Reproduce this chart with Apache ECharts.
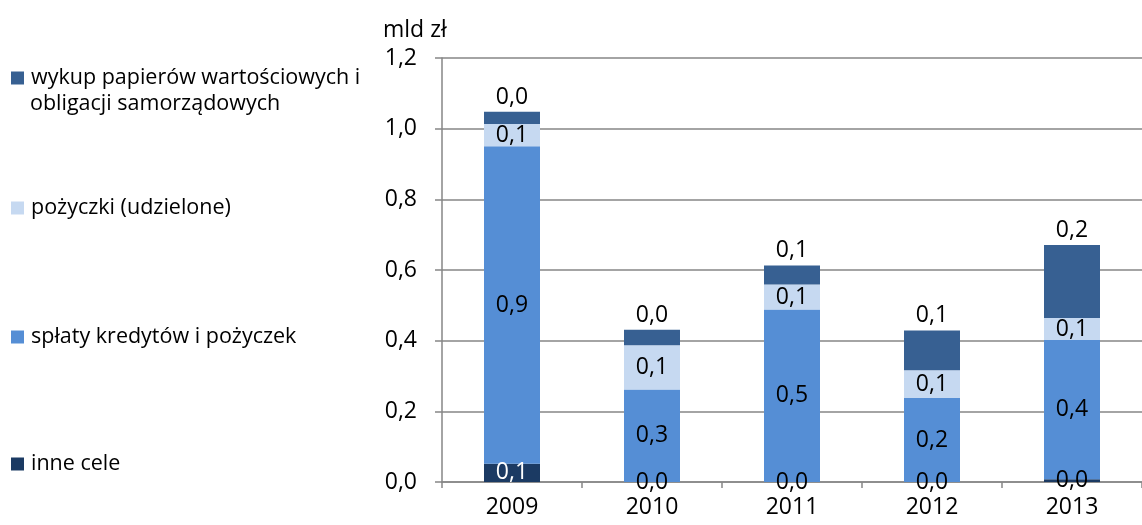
<!DOCTYPE html>
<html><head><meta charset="utf-8">
<script src="https://cdn.jsdelivr.net/npm/echarts@6/dist/echarts.min.js"></script>
<style>html,body{margin:0;padding:0;background:#fff}#c{width:1142px;height:525px}</style>
</head><body><div id="c"></div>
<script>
const categories = ['2009', '2010', '2011', '2012', '2013'];
const inneCele = [0.052, 0, 0, 0, 0.008];
const splaty = [0.898, 0.262, 0.488, 0.238, 0.394];
const pozyczki = [0.063, 0.125, 0.071, 0.078, 0.062];
const wykup = [0.035, 0.044, 0.054, 0.113, 0.207];

const names = {
  inne: 'inne cele',
  splaty: 'spłaty kredytów i pożyczek',
  pozyczki: 'pożyczki (udzielone)',
  wykup: 'wykup papierów wartościowych i obligacji samorządowych'
};
const wykupLine1 = 'wykup papierów wartościowych i';
const wykupLine2 = 'obligacji samorządowych';
const colors = { inne: '#1B3A63', splaty: '#558ED5', pozyczki: '#C6D9F1', wykup: '#376092' };
const FONT = '"Open Sans", "Liberation Sans", sans-serif';
const fmt = v => v.toFixed(1).replace('.', ',');

function mkLegend(name, top, formatter) {
  const l = {
    data: [name], left: 6, top: top, orient: 'vertical',
    icon: 'rect', itemWidth: 13, itemHeight: 13, itemGap: 0,
    selectedMode: false,
    textStyle: { fontFamily: FONT, fontSize: 21.5, color: '#000', lineHeight: 28, padding: [0, 0, 0, 2] }
  };
  if (formatter) l.formatter = formatter;
  return l;
}

function mkSeries(key, data, labelPos) {
  return {
    name: names[key], type: 'bar', stack: 'a', barWidth: 56,
    itemStyle: { color: colors[key] },
    data: data.map(v => {
      const item = { value: v };
      if (key === 'inne') item.label = { color: v >= 0.03 ? '#fff' : '#000' };
      return item;
    }),
    label: {
      show: true, position: labelPos, distance: 3,
      fontFamily: FONT, fontSize: 23, color: '#000',
      formatter: p => fmt(p.value)
    },
    emphasis: { disabled: true }
  };
}

const chart = echarts.init(document.getElementById('c'));
chart.setOption({
  animation: false,
  title: { text: 'mld zł', left: 378, top: 14, textStyle: { fontFamily: FONT, fontSize: 23, fontWeight: 'normal', color: '#000' } },
  legend: [
    mkLegend(names.wykup, 59, () => wykupLine1),
    mkLegend(names.pozyczki, 189),
    mkLegend(names.splaty, 318),
    mkLegend(names.inne, 445)
  ],
  graphic: [{
    type: 'text', left: 30, top: 93,
    style: { text: wykupLine2, font: '21.5px "Open Sans", sans-serif', fill: '#000' }
  }],
  grid: { left: 442, right: -7, top: 58, bottom: 43, containLabel: false },
  xAxis: {
    type: 'category', data: categories,
    axisLine: { lineStyle: { color: '#868686', width: 1.5 } },
    axisTick: { show: true, length: 6, lineStyle: { color: '#868686', width: 1.5 } },
    axisLabel: { fontFamily: FONT, fontSize: 23, color: '#000', margin: 14 }
  },
  yAxis: {
    type: 'value', min: 0, max: 1.2, interval: 0.2,
    axisLine: { show: true, lineStyle: { color: '#868686', width: 1.5 } },
    axisTick: { show: true, length: 7, lineStyle: { color: '#868686', width: 1.5 } },
    splitLine: { lineStyle: { color: '#868686', width: 1.5 } },
    axisLabel: { fontFamily: FONT, fontSize: 23, color: '#000', margin: 25, formatter: v => fmt(v) }
  },
  series: [
    mkSeries('inne', inneCele, 'inside'),
    mkSeries('splaty', splaty, 'inside'),
    mkSeries('pozyczki', pozyczki, 'inside'),
    mkSeries('wykup', wykup, 'top')
  ]
});
</script></body></html>
